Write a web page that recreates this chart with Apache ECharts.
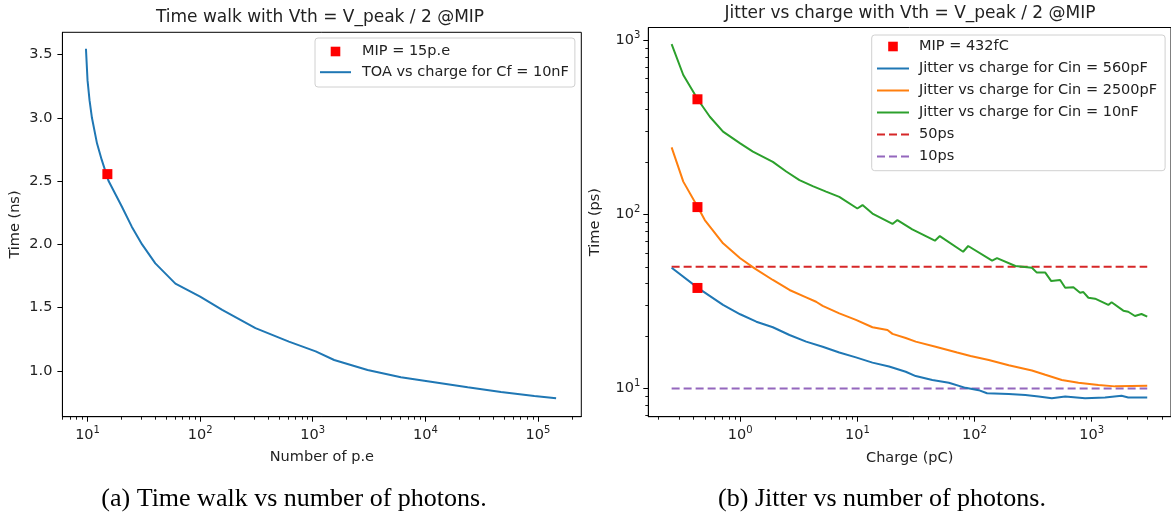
<!DOCTYPE html>
<html>
<head>
<meta charset="utf-8">
<script src="https://cdn.jsdelivr.net/npm/echarts@6/dist/echarts.min.js"></script>
<style>html,body{margin:0;padding:0;background:#fff;}#c{width:1171px;height:518px;}</style>
</head>
<body>
<div id="c"></div>
<script>
// ---------- Left panel: time walk ----------
const peX   = [9.68, 10, 10.42, 10.94, 12.13, 13.37, 15.38, 20.2, 24.7, 30.5, 40, 60.3, 100, 157, 310, 614, 1062, 1550, 3069, 6067, 9772, 23770, 47000, 92900, 145000];
const toaNs = [3.545, 3.295, 3.137, 3.0, 2.798, 2.667, 2.5, 2.297, 2.14, 2.0, 1.85, 1.69, 1.587, 1.482, 1.338, 1.232, 1.155, 1.087, 1.008, 0.950, 0.923, 0.871, 0.834, 0.803, 0.785];
const mipPe = [15];
const mipNs = [2.555];
const leftYTicks = [1.0, 1.5, 2.0, 2.5, 3.0, 3.5];
const leftXMajor = [10, 100, 1000, 10000, 100000];
const leftXMinor = [6, 7, 8, 9, 20, 30, 40, 50, 60, 70, 80, 90, 200, 300, 400, 500, 600, 700, 800, 900,
  2000, 3000, 4000, 5000, 6000, 7000, 8000, 9000, 20000, 30000, 40000, 50000, 60000, 70000, 80000, 90000, 200000];

// ---------- Right panel: jitter ----------
const greenX = [0.260, 0.327, 0.438, 0.551, 0.714, 1.0, 1.285, 1.901, 2.472, 3.206, 4.159, 5.408, 7.015, 10, 11.07, 13.46, 19.95, 21.98, 29.44, 45.92, 50.58, 79.98, 88.31, 141.3, 155.6, 223.4, 309.0, 340.4, 401.8, 451.9, 538.3, 594.3, 698.2, 796.2, 849.2, 937.6, 1069, 1387, 1479, 1862, 2051, 2339, 2661, 2979];
const greenY = [948, 630, 453, 363, 298, 255, 229, 200, 176, 157, 145, 135, 126, 108, 113, 101, 88, 92.7, 82, 70.6, 75, 61, 65.8, 54.2, 56, 50.5, 49.4, 46.3, 46.3, 41.4, 42, 37.9, 38.2, 35.5, 35.8, 33.2, 32.8, 30.2, 31.3, 28, 27.6, 26.1, 26.8, 25.9];
const orangeX = [0.260, 0.327, 0.438, 0.499, 0.714, 1.0, 1.327, 1.901, 2.636, 3.656, 4.446, 5.058, 7.015, 9.727, 13.46, 18.07, 19.95, 25.88, 31.48, 46.56, 71.12, 92.47, 132.4, 195.9, 309.0, 401.8, 555.9, 770.9, 1140, 1581, 2979];
const orangeY = [242, 154, 109, 92.7, 68.2, 56, 49, 42, 36.8, 33.4, 31.5, 29.8, 27, 24.8, 22.5, 21.7, 20.6, 19.5, 18.6, 17.4, 16.1, 15.4, 14.6, 13.6, 12.7, 12.0, 11.2, 10.8, 10.5, 10.3, 10.4];
const blueX = [0.260, 0.438, 0.714, 1.0, 1.374, 1.901, 2.636, 3.656, 5.058, 7.015, 9.727, 13.46, 18.66, 25.88, 31.48, 43.65, 60.39, 83.75, 108.6, 127.9, 195.9, 271.6, 352.4, 457.1, 594.3, 878.7, 1300, 1799, 2051, 2979];
const blueY = [49.4, 37.7, 30.2, 26.7, 24.2, 22.5, 20.3, 18.6, 17.4, 16.1, 15.1, 14.1, 13.4, 12.5, 11.8, 11.2, 10.8, 10.1, 9.8, 9.4, 9.3, 9.2, 9.0, 8.8, 9.0, 8.8, 8.9, 9.1, 8.9, 8.9];
const mipQ = [0.432, 0.432, 0.432];
const mipPs = [457, 110, 37.8];
const refX = [0.26, 2979];
const ref50 = [50, 50];
const ref10 = [10, 10];
const rightXMajor = [1, 10, 100, 1000];
const rightXMinor = [0.2, 0.3, 0.4, 0.5, 0.6, 0.7, 0.8, 0.9, 2, 3, 4, 5, 6, 7, 8, 9, 20, 30, 40, 50, 60, 70, 80, 90,
  200, 300, 400, 500, 600, 700, 800, 900, 2000, 3000, 4000];
const rightYMajor = [10, 100, 1000];
const rightYMinor = [7, 8, 9, 20, 30, 40, 50, 60, 70, 80, 90, 200, 300, 400, 500, 600, 700, 800, 900];

const FAM = "'DejaVu Sans', sans-serif";
const TXT = '#222';
const pairs = (xs, ys) => xs.map((x, i) => [x, ys[i]]);
const pow10Label = v => '{b|10}{s|' + Math.round(Math.log10(v)) + '}';
const richSup = {
  b: {fontSize: 14.5, fontFamily: FAM, color: TXT, lineHeight: 20},
  s: {fontSize: 10, fontFamily: FAM, color: TXT, verticalAlign: 'top', lineHeight: 12}
};

function majorAxis(grid, pos, type, min, max, ticks, extra) {
  return Object.assign({
    gridIndex: grid, type: type, position: pos, min: min, max: max,
    axisLine: {show: true, onZero: false, lineStyle: {color: '#000', width: 1}},
    axisTick: {show: true, inside: false, length: 5, customValues: ticks, lineStyle: {color: '#000', width: 1}},
    axisLabel: {show: true, customValues: ticks, margin: 10, fontSize: 14.5, fontFamily: FAM, color: TXT},
    splitLine: {show: false}, minorTick: {show: false}
  }, extra || {});
}
function minorAxis(grid, pos, min, max, ticks) {
  return {
    gridIndex: grid, type: 'log', position: pos, min: min, max: max,
    axisLine: {show: false, onZero: false},
    axisTick: {show: true, inside: false, length: 3, customValues: ticks, lineStyle: {color: '#000', width: 0.9}},
    axisLabel: {show: false}, splitLine: {show: false}
  };
}

const LXMIN = 5.98, LXMAX = 242700, LYMIN = 0.639, LYMAX = 3.675;
const RXMIN = 0.1644, RXMAX = 4753, RYMIN = 6.90, RYMAX = 1179.6;

const chart = echarts.init(document.getElementById('c'), null, {renderer: 'canvas'});
chart.setOption({
  animation: false,
  backgroundColor: '#fff',
  grid: [
    {left: 62.4, top: 32.3, width: 518.9, height: 384.4, show: true, borderColor: '#000', borderWidth: 1, backgroundColor: 'transparent'},
    {left: 648.3, top: 27.5, width: 524.7, height: 389.2, show: true, borderColor: '#000', borderWidth: 1, backgroundColor: 'transparent'}
  ],
  xAxis: [
    majorAxis(0, 'bottom', 'log', LXMIN, LXMAX, leftXMajor, {
      name: 'Number of p.e', nameLocation: 'middle', nameGap: 33,
      nameTextStyle: {fontSize: 14.5, fontFamily: FAM, color: TXT},
      axisLabel: {show: true, customValues: leftXMajor, margin: 9, formatter: pow10Label, rich: richSup}
    }),
    minorAxis(0, 'bottom', LXMIN, LXMAX, leftXMinor),
    majorAxis(1, 'bottom', 'log', RXMIN, RXMAX, rightXMajor, {
      name: 'Charge (pC)', nameLocation: 'middle', nameGap: 34,
      nameTextStyle: {fontSize: 14.5, fontFamily: FAM, color: TXT},
      axisLabel: {show: true, customValues: rightXMajor, margin: 9, formatter: pow10Label, rich: richSup}
    }),
    minorAxis(1, 'bottom', RXMIN, RXMAX, rightXMinor)
  ],
  yAxis: [
    majorAxis(0, 'left', 'value', LYMIN, LYMAX, leftYTicks, {
      name: 'Time (ns)', nameLocation: 'middle', nameGap: 40,
      nameTextStyle: {fontSize: 14.5, fontFamily: FAM, color: TXT},
      axisLabel: {show: true, customValues: leftYTicks, margin: 10, fontSize: 14.5, fontFamily: FAM, color: TXT,
        formatter: v => Number(v).toFixed(1)}
    }),
    majorAxis(1, 'left', 'log', RYMIN, RYMAX, rightYMajor, {
      name: 'Time (ps)', nameLocation: 'middle', nameGap: 46,
      nameTextStyle: {fontSize: 14.5, fontFamily: FAM, color: TXT},
      axisLabel: {show: true, customValues: rightYMajor, margin: 8, formatter: pow10Label, rich: richSup}
    }),
    minorAxis(1, 'left', RYMIN, RYMAX, rightYMinor)
  ],
  legend: [
    {
      orient: 'vertical', left: 315, top: 38, padding: [6, 6, 7.3, 4],
      itemWidth: 31, itemHeight: 12, itemGap: 5.7,
      borderColor: '#d0d0d0', borderWidth: 1, borderRadius: 3, backgroundColor: '#fff',
      textStyle: {fontSize: 14.5, fontFamily: FAM, color: TXT, lineHeight: 14, padding: [0, 0, 0, 6]},
      data: [
        {name: 'MIP = 15p.e', lineStyle: {opacity: 0}},
        {name: 'TOA vs charge for Cf = 10nF', itemStyle: {opacity: 0}}
      ]
    },
    {
      orient: 'vertical', left: 871.7, top: 35, padding: [4, 8, 6.7, 4.3],
      itemWidth: 32, itemHeight: 12, itemGap: 7,
      borderColor: '#d0d0d0', borderWidth: 1, borderRadius: 3, backgroundColor: '#fff',
      textStyle: {fontSize: 14.5, fontFamily: FAM, color: TXT, lineHeight: 14, padding: [0, 0, 0, 5]},
      data: [
        {name: 'MIP = 432fC', lineStyle: {opacity: 0}},
        {name: 'Jitter vs charge for Cin = 560pF', itemStyle: {opacity: 0}},
        {name: 'Jitter vs charge for Cin = 2500pF', itemStyle: {opacity: 0}},
        {name: 'Jitter vs charge for Cin = 10nF', itemStyle: {opacity: 0}},
        {name: '50ps', itemStyle: {opacity: 0}, lineStyle: {type: [8, 4]}},
        {name: '10ps', itemStyle: {opacity: 0}, lineStyle: {type: [8, 4]}}
      ]
    }
  ],
  series: [
    {name: 'TOA vs charge for Cf = 10nF', type: 'line', xAxisIndex: 0, yAxisIndex: 0,
      data: pairs(peX, toaNs), symbol: 'none', smooth: false,
      lineStyle: {color: '#1f77b4', width: 2}, itemStyle: {color: '#1f77b4'}, z: 3},
    {name: 'MIP = 15p.e', type: 'line', xAxisIndex: 0, yAxisIndex: 0,
      data: pairs(mipPe, mipNs), symbol: 'rect', symbolSize: 10, showSymbol: true,
      lineStyle: {width: 0, opacity: 0}, itemStyle: {color: '#ff0000'}, z: 4},

    {name: 'MIP = 432fC', type: 'line', xAxisIndex: 2, yAxisIndex: 1,
      data: pairs(mipQ, mipPs), symbol: 'rect', symbolSize: 10, showSymbol: true,
      lineStyle: {width: 0, opacity: 0}, itemStyle: {color: '#ff0000'}, z: 5},
    {name: 'Jitter vs charge for Cin = 560pF', type: 'line', xAxisIndex: 2, yAxisIndex: 1,
      data: pairs(blueX, blueY), symbol: 'none',
      lineStyle: {color: '#1f77b4', width: 2}, itemStyle: {color: '#1f77b4'}, z: 3},
    {name: 'Jitter vs charge for Cin = 2500pF', type: 'line', xAxisIndex: 2, yAxisIndex: 1,
      data: pairs(orangeX, orangeY), symbol: 'none',
      lineStyle: {color: '#ff7f0e', width: 2}, itemStyle: {color: '#ff7f0e'}, z: 3},
    {name: 'Jitter vs charge for Cin = 10nF', type: 'line', xAxisIndex: 2, yAxisIndex: 1,
      data: pairs(greenX, greenY), symbol: 'none',
      lineStyle: {color: '#2ca02c', width: 2}, itemStyle: {color: '#2ca02c'}, z: 3},
    {name: '50ps', type: 'line', xAxisIndex: 2, yAxisIndex: 1,
      data: pairs(refX, ref50), symbol: 'none',
      lineStyle: {color: '#d62728', width: 2, type: [8, 4]}, itemStyle: {color: '#d62728'}, z: 2},
    {name: '10ps', type: 'line', xAxisIndex: 2, yAxisIndex: 1,
      data: pairs(refX, ref10), symbol: 'none',
      lineStyle: {color: '#9467bd', width: 2, type: [8, 4]}, itemStyle: {color: '#9467bd'}, z: 2}
  ],
  graphic: [
    {type: 'text', x: 320, y: 18, style: {text: 'Time walk with Vth = V_peak / 2 @MIP', fontSize: 17, fontFamily: FAM, fill: TXT, align: 'center', verticalAlign: 'middle'}},
    {type: 'text', x: 910, y: 13.5, style: {text: 'Jitter vs charge with Vth = V_peak / 2 @MIP', fontSize: 17, fontFamily: FAM, fill: TXT, align: 'center', verticalAlign: 'middle'}},
    {type: 'text', x: 294, y: 499, style: {text: '(a) Time walk vs number of photons.', fontSize: 26, fontFamily: "'Liberation Serif', 'Times New Roman', serif", fill: '#000', align: 'center', verticalAlign: 'middle'}},
    {type: 'text', x: 882, y: 499, style: {text: '(b) Jitter vs number of photons.', fontSize: 26, fontFamily: "'Liberation Serif', 'Times New Roman', serif", fill: '#000', align: 'center', verticalAlign: 'middle'}}
  ]
});
</script>
</body>
</html>
